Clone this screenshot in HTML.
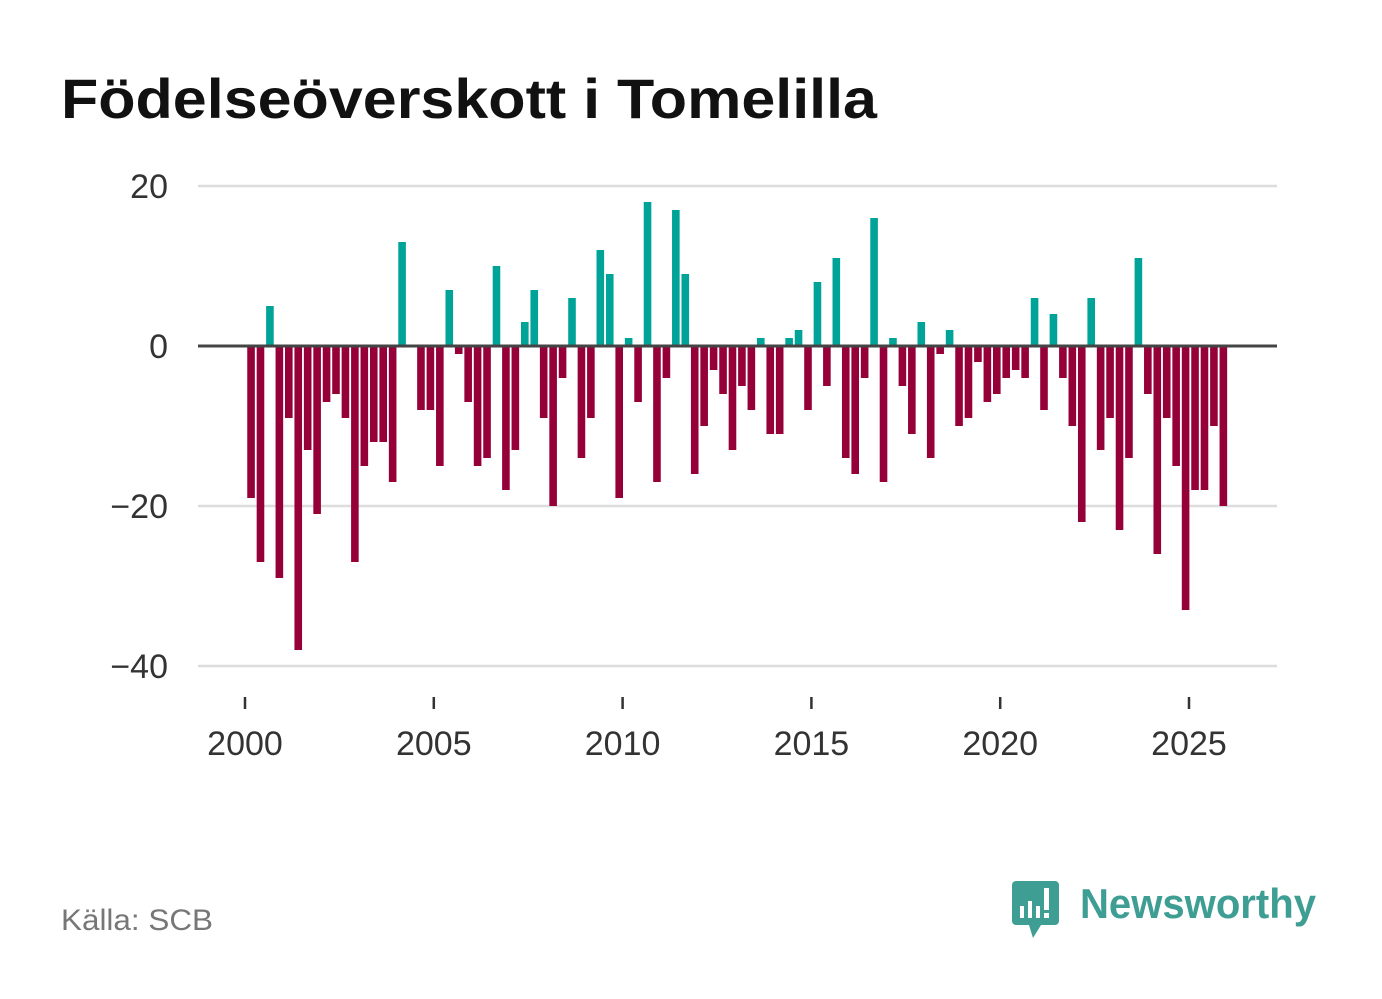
<!DOCTYPE html>
<html><head><meta charset="utf-8"><style>
html,body{margin:0;padding:0;background:#fff;width:1382px;height:999px;overflow:hidden}
svg{display:block}
</style></head><body>
<svg id="chart" width="1382" height="999" viewBox="0 0 1382 999" xmlns="http://www.w3.org/2000/svg" font-family="'Liberation Sans', 'DejaVu Sans', sans-serif">
<text x="61" y="118" font-size="56" font-weight="bold" fill="#111" textLength="816" lengthAdjust="spacingAndGlyphs">Födelseöverskott i Tomelilla</text>
<g id="grid"></g>
<g id="bars"></g>
<g id="axes"></g>
<text x="61" y="930" font-size="30" fill="#777" textLength="152" lengthAdjust="spacingAndGlyphs">Källa: SCB</text>
<g>
<path d="M1016 881 h39 a4 4 0 0 1 4 4 v36 a4 4 0 0 1 -4 4 h-14 l-8 13 l-4 -13 h-13 a4 4 0 0 1 -4 -4 v-36 a4 4 0 0 1 4 -4z" fill="#3f9e94"/>
<rect x="1020" y="906" width="4" height="12" fill="#fff"/>
<rect x="1028" y="901" width="4" height="17" fill="#fff"/>
<rect x="1036" y="906" width="4" height="12" fill="#fff"/>
<rect x="1044" y="888" width="5" height="22" fill="#fff"/>
<rect x="1044" y="913" width="5" height="5" fill="#fff"/>
<text x="1080" y="918" font-size="42" font-weight="bold" fill="#3f9e94" textLength="236" lengthAdjust="spacingAndGlyphs">Newsworthy</text>
</g>
</svg>
<script>
const values = [-19,-27,5,-29,-9,-38,-13,-21,-7,-6,-9,-27,-15,-12,-12,-17,13,0,-8,-8,-15,7,-1,-7,-15,-14,10,-18,-13,3,7,-9,-20,-4,6,-14,-9,12,9,-19,1,-7,18,-17,-4,17,9,-16,-10,-3,-6,-13,-5,-8,1,-11,-11,1,2,-8,8,-5,11,-14,-16,-4,16,-17,1,-5,-11,3,-14,-1,2,-10,-9,-2,-7,-6,-4,-3,-4,6,-8,4,-4,-10,-22,6,-13,-9,-23,-14,11,-6,-26,-9,-15,-33,-18,-18,-10,-20];
const startYear = 2000;
const yTicks = [20,0,-20,-40];
const yTickLabels = ["20","0","\u221220","\u221240"];
const xTicks = [2000,2005,2010,2015,2020,2025];

const NS="http://www.w3.org/2000/svg";
function x(t){return 245+(t-2000)*(1189-245)/25;}
function y(v){return 346-v*8;}
function mk(tag,attrs,parent){const e=document.createElementNS(NS,tag);for(const k in attrs)e.setAttribute(k,attrs[k]);parent.appendChild(e);return e;}
const grid=document.getElementById('grid'),bars=document.getElementById('bars'),axes=document.getElementById('axes');
yTicks.forEach((v,i)=>{
  if(v!==0){const l=mk('line',{x1:198,x2:1277,y1:y(v),y2:y(v),stroke:'#dddddd','stroke-width':2.5},grid);
  
  }
  const t=mk('text',{x:168,y:y(v)+12,'font-size':34,fill:'#333','text-anchor':'end'},axes);
  t.textContent=yTickLabels[i];
  
  
});
values.forEach((v,i)=>{
  const cx=x(startYear+i/4+0.16);
  const top=Math.min(y(v),y(0)),h=Math.abs(y(v)-y(0));
  const r=mk('rect',{x:cx-3.8,y:top,width:7.6,height:h,fill:v>=0?'#00a398':'#960038'},bars);
  
  
});
const zl=mk('line',{x1:198,x2:1277,y1:y(0),y2:y(0),stroke:'#444','stroke-width':3},axes);


xTicks.forEach(yr=>{
  const tk=mk('line',{x1:x(yr),x2:x(yr),y1:697,y2:709,stroke:'#333','stroke-width':2.5},axes);
  
  
  const t=mk('text',{x:x(yr),y:755,'font-size':34,fill:'#333','text-anchor':'middle'},axes);
  t.textContent=yr;
  
  
});
</script>
</body></html>
